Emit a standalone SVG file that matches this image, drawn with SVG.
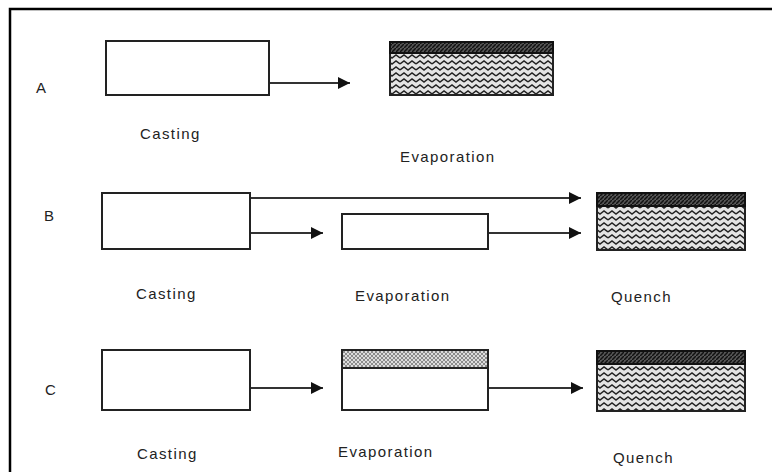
<svg xmlns="http://www.w3.org/2000/svg" width="772" height="472" viewBox="0 0 772 472">
<style>
.frame{fill:none;stroke:#000;stroke-width:2.5}
.box{fill:#fff;stroke:#222;stroke-width:2}
.conn{stroke:#333;stroke-width:2;fill:none}
.lbl{font-family:"Liberation Sans",Arial,sans-serif;font-size:15px;letter-spacing:1.4px;fill:#222}
.dark{fill:url(#darkHatch);stroke:#111;stroke-width:2}
.wave{fill:url(#wave);stroke:#222;stroke-width:2}
.light{fill:url(#lightHatch);stroke:#222;stroke-width:2}
</style>
<defs>
<marker id="ah" viewBox="0 0 10 10" refX="10" refY="5" markerWidth="6" markerHeight="6" orient="auto" markerUnits="strokeWidth">
<path d="M0,0 L10,5 L0,10 z" fill="#111"/>
</marker>
<pattern id="darkHatch" width="4" height="4" patternUnits="userSpaceOnUse">
<rect width="4" height="4" fill="#555"/>
<path d="M0,4 L4,0" stroke="#111" stroke-width="1.5"/>
</pattern>
<pattern id="wave" width="16" height="6" patternUnits="userSpaceOnUse">
<rect width="16" height="6" fill="#e4e4e4"/>
<path d="M0,4 L4,1 L8,4 L12,1 L16,4" stroke="#222" stroke-width="1.5" fill="none"/>
</pattern>
<pattern id="lightHatch" width="4" height="4" patternUnits="userSpaceOnUse">
<rect width="4" height="4" fill="#ddd"/>
<path d="M0,0 L4,4 M0,4 L4,0" stroke="#777" stroke-width="0.8"/>
</pattern>
</defs>
<rect width="772" height="472" fill="#fff"/>
<path class="frame" d="M10,480 L10,9 L780,9"/>

<g id="connectors">
<line class="conn" x1="269" y1="83" x2="350" y2="83" marker-end="url(#ah)"/>
<line class="conn" x1="250" y1="198" x2="581" y2="198" marker-end="url(#ah)"/>
<line class="conn" x1="250" y1="233" x2="323" y2="233" marker-end="url(#ah)"/>
<line class="conn" x1="488" y1="233" x2="581" y2="233" marker-end="url(#ah)"/>
<line class="conn" x1="250" y1="388" x2="323" y2="388" marker-end="url(#ah)"/>
<line class="conn" x1="488" y1="388" x2="583" y2="388" marker-end="url(#ah)"/>
</g>

<g id="rowA">
<text class="lbl" x="36" y="93">A</text>
<g id="A-casting"><rect class="box" x="106" y="41" width="163" height="54"/><text class="lbl" x="140" y="139">Casting</text></g>
<g id="A-evaporation">
<rect class="wave" x="390" y="42" width="163" height="53"/>
<rect class="dark" x="390" y="42" width="163" height="11"/>
<text class="lbl" x="400" y="162">Evaporation</text>
</g>
</g>

<g id="rowB">
<text class="lbl" x="44" y="221">B</text>
<g id="B-casting"><rect class="box" x="102" y="193" width="148" height="56"/><text class="lbl" x="136" y="299">Casting</text></g>
<g id="B-evaporation"><rect class="box" x="342" y="214" width="146" height="35"/><text class="lbl" x="355" y="301">Evaporation</text></g>
<g id="B-quench">
<rect class="wave" x="597" y="193" width="148" height="57"/>
<rect class="dark" x="597" y="193" width="148" height="13"/>
<text class="lbl" x="611" y="302">Quench</text>
</g>
</g>

<g id="rowC">
<text class="lbl" x="45" y="395">C</text>
<g id="C-casting"><rect class="box" x="102" y="350" width="148" height="60"/><text class="lbl" x="137" y="459">Casting</text></g>
<g id="C-evaporation">
<rect class="box" x="342" y="350" width="146" height="60"/>
<rect class="light" x="342" y="350" width="146" height="18"/>
<text class="lbl" x="338" y="457">Evaporation</text>
</g>
<g id="C-quench">
<rect class="wave" x="597" y="351" width="148" height="60"/>
<rect class="dark" x="597" y="351" width="148" height="13"/>
<text class="lbl" x="613" y="463">Quench</text>
</g>
</g>
</svg>
